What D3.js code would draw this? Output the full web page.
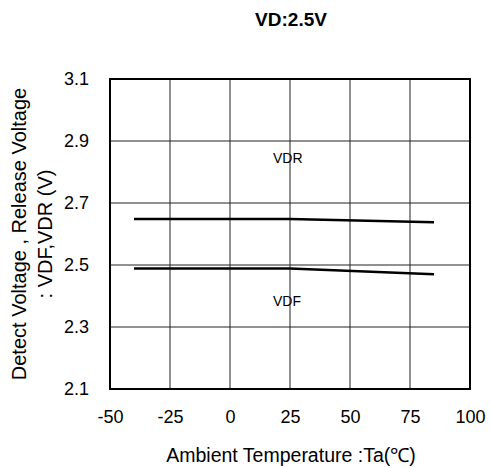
<!DOCTYPE html>
<html>
<head>
<meta charset="utf-8">
<script src="https://cdn.jsdelivr.net/npm/d3@7"></script>
<style>
  body { margin: 0; background: #fff; }
  text { font-family: Arial, "Liberation Sans", sans-serif; fill: #000; }
</style>
</head>
<body>
<div class="canvas"></div>
<script>
// data
var temps = [-40, 25, 85];
var vdrValues = [2.648, 2.648, 2.638];
var vdfValues = [2.489, 2.489, 2.470];
var xTicks = [-50, -25, 0, 25, 50, 75, 100];
var yTicks = [2.1, 2.3, 2.5, 2.7, 2.9, 3.1];

var svg = d3.select(".canvas")
    .append("svg")
    .attr("width", 491)
    .attr("height", 468);

var plotLeft = 110, plotRight = 470, plotTop = 79, plotBottom = 389;

var x = d3.scaleLinear().domain([-50, 100]).range([plotLeft, plotRight]);
var y = d3.scaleLinear().domain([2.1, 3.1]).range([plotBottom, plotTop]);

// grid
svg.append("g")
    .selectAll("line")
    .data(xTicks)
    .enter().append("line")
    .attr("x1", function(d){ return x(d); })
    .attr("x2", function(d){ return x(d); })
    .attr("y1", plotTop)
    .attr("y2", plotBottom)
    .attr("stroke", "#222")
    .attr("stroke-width", 1);

svg.append("g")
    .selectAll("line")
    .data(yTicks)
    .enter().append("line")
    .attr("x1", plotLeft)
    .attr("x2", plotRight)
    .attr("y1", function(d){ return y(d); })
    .attr("y2", function(d){ return y(d); })
    .attr("stroke", "#222")
    .attr("stroke-width", 1);

// frame
svg.append("rect")
    .attr("x", plotLeft)
    .attr("y", plotTop)
    .attr("width", plotRight - plotLeft)
    .attr("height", plotBottom - plotTop)
    .attr("fill", "none")
    .attr("stroke", "#000")
    .attr("stroke-width", 2);

// tick labels
var xAxis = d3.axisBottom(x).tickValues(xTicks).tickSize(0).tickPadding(21)
    .tickFormat(function(d){ return String(d); });
svg.append("g")
    .attr("transform", "translate(0," + plotBottom + ")")
    .call(xAxis)
    .call(function(g){ g.select(".domain").remove(); })
    .selectAll("text")
    .style("font-size", "18px")
    .style("font-family", "Arial, 'Liberation Sans', sans-serif")
    .attr("fill", "#000");

var yAxis = d3.axisLeft(y).tickValues(yTicks).tickSize(0).tickPadding(21)
    .tickFormat(d3.format(".1f"));
svg.append("g")
    .attr("transform", "translate(" + plotLeft + ",0)")
    .call(yAxis)
    .call(function(g){ g.select(".domain").remove(); })
    .selectAll("text")
    .style("font-size", "18px")
    .style("font-family", "Arial, 'Liberation Sans', sans-serif")
    .attr("fill", "#000");

// series
var line = d3.line()
    .x(function(d){ return x(d[0]); })
    .y(function(d){ return y(d[1]); });

[vdrValues, vdfValues].forEach(function(vals){
    svg.append("path")
        .datum(d3.zip(temps, vals))
        .attr("d", line)
        .attr("fill", "none")
        .attr("stroke", "#000")
        .attr("stroke-width", 2.5);
});

// series labels
svg.append("text")
    .attr("x", 273)
    .attr("y", 163)
    .style("font-size", "14px")
    .text("VDR");

svg.append("text")
    .attr("x", 273)
    .attr("y", 306)
    .style("font-size", "14px")
    .text("VDF");

// title
svg.append("text")
    .attr("x", 291)
    .attr("y", 26)
    .attr("text-anchor", "middle")
    .style("font-size", "19px")
    .style("font-weight", "bold")
    .text("VD:2.5V");

// axis titles
svg.append("text")
    .attr("x", 291)
    .attr("y", 462)
    .attr("text-anchor", "middle")
    .style("font-size", "19.5px")
    .text("Ambient Temperature :Ta(\u2103)");

svg.append("text")
    .attr("transform", "translate(26," + ((plotTop + plotBottom) / 2) + ") rotate(-90)")
    .attr("text-anchor", "middle")
    .style("font-size", "20px")
    .text("Detect Voltage , Release Voltage");

svg.append("text")
    .attr("transform", "translate(52," + ((plotTop + plotBottom) / 2) + ") rotate(-90)")
    .attr("text-anchor", "middle")
    .style("font-size", "20px")
    .text(": VDF,VDR (V)");
</script>
</body>
</html>
